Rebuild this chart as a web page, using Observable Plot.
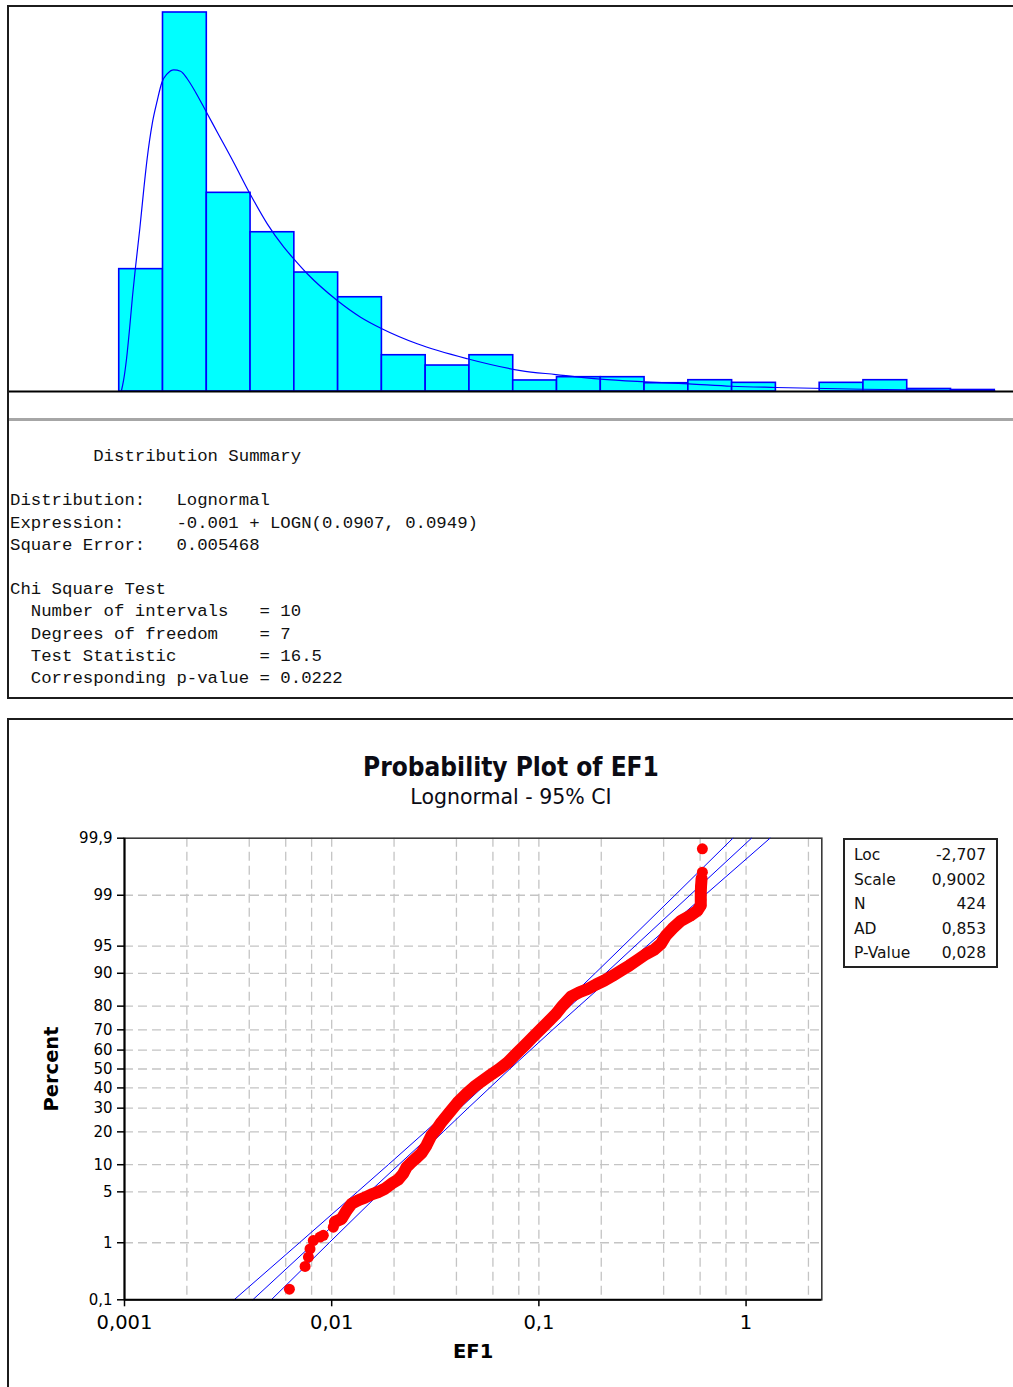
<!DOCTYPE html>
<html>
<head>
<meta charset="utf-8">
<script src="https://cdn.jsdelivr.net/npm/d3@7"></script>
<script src="https://cdn.jsdelivr.net/npm/@observablehq/plot@0.6"></script>
<style>
  html, body { margin: 0; padding: 0; background: #fff; }
  body { width: 1013px; height: 1387px; overflow: hidden; position: relative; }
  .panel { position: absolute; border: 2px solid #1c1c1c; box-sizing: border-box; }
  .abs { position: absolute; }
  #summary {
    position: absolute; left: 10px; top: 446px; margin: 0;
    font-family: "Liberation Mono", "DejaVu Sans Mono", monospace;
    font-size: 17.33px; line-height: 22.2px; color: #111; white-space: pre;
  }
  #sep { position: absolute; left: 9px; top: 418px; width: 1004px; height: 3px; background: #a6a6a6; }
  #title {
    position: absolute; left: 9px; width: 1004px; top: 754px; text-align: center;
    font-family: "DejaVu Sans Condensed", "DejaVu Sans", sans-serif; font-stretch: condensed;
    font-weight: bold; font-size: 26px; line-height: 26px; color: #0b0b14;
  }
  #subtitle {
    position: absolute; left: 9px; width: 1004px; top: 786.7px; text-align: center;
    font-family: "DejaVu Sans", sans-serif; font-size: 20.5px; line-height: 20.5px; color: #0b0b14;
  }
  #stats {
    position: absolute; left: 843px; top: 838px; width: 155px; height: 130px;
    border: 2px solid #222; box-sizing: border-box; padding: 3px 10px 0 9px;
    font-family: "DejaVu Sans", sans-serif; font-size: 15.5px; line-height: 24.5px; color: #111;
  }
  #stats .row { display: flex; justify-content: space-between; }
</style>
</head>
<body>
<div class="panel" style="left:7px; top:5px; width:1030px; height:694px;"></div>
<div class="panel" style="left:7px; top:718px; width:1030px; height:720px;"></div>
<div id="hist" class="abs" style="left:9px; top:7px;"></div>
<div id="sep"></div>
<pre id="summary"></pre>
<div id="title"></div>
<div id="subtitle"></div>
<div id="prob" class="abs" style="left:9px; top:818px;"></div>
<div id="stats"></div>
<script>
// ---------- Histogram of EF1 with fitted lognormal density ----------
const histBinEdges = [0.0060, 0.0364, 0.0668, 0.0972, 0.1276, 0.1580, 0.1884, 0.2188, 0.2492, 0.2796,
  0.3100, 0.3404, 0.3708, 0.4012, 0.4316, 0.4620, 0.4924, 0.5228, 0.5532, 0.5836, 0.6140];
const histRelFreq = [0.0975, 0.3020, 0.1583, 0.1269, 0.0948, 0.0751, 0.0289, 0.0207, 0.0289, 0.0088,
  0.0114, 0.0114, 0.0066, 0.0090, 0.0069, 0.0000, 0.0069, 0.0090, 0.0020, 0.0012];

// fitted density, as relative frequency per interval
const densityX = [0.0074, 0.0090, 0.0111, 0.0132, 0.0152, 0.0173, 0.0203, 0.0231, 0.0254, 0.0289, 0.0324,
  0.0356, 0.0393, 0.0439, 0.0486, 0.0532, 0.0590, 0.0666, 0.0741, 0.0854, 0.0967, 0.1088, 0.1203, 0.1272,
  0.1366, 0.1574, 0.1736, 0.1884, 0.2129, 0.2477, 0.2847, 0.3092, 0.3402, 0.3708, 0.4015, 0.4312, 0.4619,
  0.5224, 0.5837, 0.6140];
const densityY = [0.0000, 0.0088, 0.0263, 0.0502, 0.0757, 0.0990, 0.1299, 0.1618, 0.1857, 0.2133, 0.2318,
  0.2462, 0.2531, 0.2563, 0.2552, 0.2492, 0.2385, 0.2225, 0.2066, 0.1827, 0.1578, 0.1336, 0.1150, 0.1057,
  0.0938, 0.0725, 0.0592, 0.0500, 0.0380, 0.0261, 0.0167, 0.0135, 0.0098, 0.0077, 0.0061, 0.0042, 0.0032,
  0.0018, 0.0010, 0.0008];

// ---------- Input Analyzer summary ----------
const summaryNames = ["Distribution:", "Expression:", "Square Error:"];
const summaryValues = ["Lognormal", "-0.001 + LOGN(0.0907, 0.0949)", "0.005468"];
const chiNames = ["Number of intervals", "Degrees of freedom", "Test Statistic", "Corresponding p-value"];
const chiValues = ["10", "7", "16.5", "0.0222"];

// ---------- Probability plot (lognormal, 95% CI) ----------
const ef1Values = [0.00625, 0.00744, 0.00772, 0.00786, 0.00815, 0.00878, 0.00911, 0.01018, 0.01037, 0.01117,
  0.01181, 0.01248, 0.01343, 0.01446, 0.01558, 0.01677, 0.01806, 0.01945, 0.02093, 0.02212, 0.02297, 0.02428,
  0.02566, 0.02713, 0.02867, 0.03030, 0.03261, 0.03386, 0.03713, 0.04070, 0.04467, 0.04897, 0.05370, 0.05892,
  0.06461, 0.07086, 0.07775, 0.08525, 0.09345, 0.1026, 0.1125, 0.1211, 0.1303, 0.1430, 0.1569, 0.1720,
  0.1887, 0.2070, 0.2269, 0.2490, 0.2731, 0.2994, 0.3285, 0.3602, 0.3880, 0.4101, 0.4413, 0.4859, 0.5370,
  0.5821, 0.6045, 0.6045, 0.6045, 0.6064, 0.6099, 0.6153, 0.6153];
const ef1Percents = [0.16, 0.41, 0.59, 0.80, 1.08, 1.22, 1.30, 1.71, 2.03, 2.25, 2.91, 3.56, 3.94, 4.25, 4.66,
  4.98, 5.44, 6.24, 6.92, 8.04, 9.44, 10.6, 11.7, 13.0, 15.3, 18.7, 21.8, 23.8, 28.2, 32.9, 37.0, 40.8, 43.9,
  47.1, 50.1, 53.6, 58.1, 62.3, 66.5, 70.5, 74.2, 77.0, 80.2, 83.4, 84.8, 85.8, 87.1, 88.2, 89.4, 90.6, 91.7,
  92.8, 93.8, 94.5, 95.3, 96.3, 97.0, 97.65, 97.99, 98.30, 98.57, 98.83, 99.09, 99.29, 99.46, 99.58, 99.84];

const fitPercents = [0.1, 50, 99.9];
const fitValues = [0.00416, 0.0665, 1.062];
const ciPercents = [0.1, 1, 5, 10, 20, 30, 50, 70, 80, 90, 95, 99, 99.9];
const ciLower = [0.00338, 0.00699, 0.01331, 0.01875, 0.02826, 0.03792, 0.06099, 0.09705, 0.1279, 0.1868, 0.2546, 0.4536, 0.8640];
const ciUpper = [0.00511, 0.00973, 0.01733, 0.02361, 0.03450, 0.04548, 0.07235, 0.1164, 0.1561, 0.2353, 0.3315, 0.6314, 1.305];

const yTickPercents = [0.1, 1, 5, 10, 20, 30, 40, 50, 60, 70, 80, 90, 95, 99, 99.9];
const yTickLabels = ["0,1", "1", "5", "10", "20", "30", "40", "50", "60", "70", "80", "90", "95", "99", "99,9"];
const yGridPercents = [1, 5, 10, 20, 30, 40, 50, 60, 70, 80, 90, 95, 99];
const xTickValues = [0.001, 0.01, 0.1, 1];
const xTickLabels = ["0,001", "0,01", "0,1", "1"];
const xGridValues = [0.002, 0.004, 0.006, 0.008, 0.01, 0.02, 0.04, 0.06, 0.08, 0.1,
  0.2, 0.4, 0.6, 0.8, 1, 2];

const statLabels = ["Loc", "Scale", "N", "AD", "P-Value"];
const statValues = ["-2,707", "0,9002", "424", "0,853", "0,028"];

// normal quantile (Acklam's rational approximation) for the probability axis
function probit(p) {
  const a = [-3.969683028665376e+01, 2.209460984245205e+02, -2.759285104469687e+02, 1.383577518672690e+02, -3.066479806614716e+01, 2.506628277459239e+00];
  const b = [-5.447609879822406e+01, 1.615858368580409e+02, -1.556989798598866e+02, 6.680131188771972e+01, -1.328068155288572e+01];
  const c = [-7.784894002430293e-03, -3.223964580411365e-01, -2.400758277161838e+00, -2.549732539343734e+00, 4.374664141464968e+00, 2.938163982698783e+00];
  const d = [7.784695709041462e-03, 3.224671290700398e-01, 2.445134137142996e+00, 3.754408661907416e+00];
  const pl = 0.02425;
  if (p < pl) {
    const q = Math.sqrt(-2 * Math.log(p));
    return (((((c[0]*q + c[1])*q + c[2])*q + c[3])*q + c[4])*q + c[5]) / ((((d[0]*q + d[1])*q + d[2])*q + d[3])*q + 1);
  }
  if (p <= 1 - pl) {
    const q = p - 0.5, r = q * q;
    return (((((a[0]*r + a[1])*r + a[2])*r + a[3])*r + a[4])*r + a[5]) * q / (((((b[0]*r + b[1])*r + b[2])*r + b[3])*r + b[4])*r + 1);
  }
  const q = Math.sqrt(-2 * Math.log(1 - p));
  return -(((((c[0]*q + c[1])*q + c[2])*q + c[3])*q + c[4])*q + c[5]) / ((((d[0]*q + d[1])*q + d[2])*q + d[3])*q + 1);
}
const zOf = pct => probit(pct / 100);

// ---------- draw histogram ----------
const bins = histRelFreq.map((f, i) => ({x1: histBinEdges[i], x2: histBinEdges[i + 1], f})).filter(d => d.f > 0);
const density = densityX.map((x, i) => ({x, y: densityY[i]}));

const hist = Plot.plot({
  width: 1004, height: 414,
  marginLeft: 0, marginRight: 0, marginTop: 5, marginBottom: 30,
  x: {domain: [-0.0702, 0.6270], axis: null},
  y: {domain: [0, 0.302], axis: null},
  style: {background: "none", overflow: "visible"},
  marks: [
    Plot.rectY(bins, {x1: "x1", x2: "x2", y1: 0, y2: "f", fill: "#00ffff", stroke: "#0000ff", strokeWidth: 1.6}),
    Plot.line(density, {x: "x", y: "y", stroke: "#0000ff", strokeWidth: 1.2, curve: "monotone-x"}),
    Plot.ruleY([0], {stroke: "#000", strokeWidth: 2})
  ]
});
document.getElementById("hist").appendChild(hist);

// ---------- summary text ----------
const pad = (s, n) => s + " ".repeat(Math.max(0, n - s.length));
const lines = ["        Distribution Summary", ""];
summaryNames.forEach((n, i) => lines.push(pad(n, 16) + summaryValues[i]));
lines.push("", "Chi Square Test");
chiNames.forEach((n, i) => lines.push(pad("  " + n, 24) + "= " + chiValues[i]));
document.getElementById("summary").textContent = lines.join("\n");

// ---------- probability plot ----------
document.getElementById("title").textContent = "Probability Plot of EF1";
document.getElementById("subtitle").textContent = "Lognormal - 95% CI";

const pts = ef1Values.map((v, i) => ({v, z: zOf(ef1Percents[i])}));
// where the plotted symbols overlap into a solid band (about 2% to 99.5%)
const band = pts.slice(8, 65);
const fitLine = fitValues.map((v, i) => ({v, z: zOf(fitPercents[i])}));
const lowLine = ciLower.map((v, i) => ({v, z: zOf(ciPercents[i])}));
const upLine = ciUpper.map((v, i) => ({v, z: zOf(ciPercents[i])}));
const yTickZ = yTickPercents.map(zOf);
const yLabelOf = new Map(yTickZ.map((z, i) => [z, yTickLabels[i]]));
const xLabelOf = new Map(xTickValues.map((v, i) => [v, xTickLabels[i]]));
const gridStyle = {stroke: "#c4c4c4", strokeWidth: 1.3, strokeDasharray: "9,5"};

const prob = Plot.plot({
  width: 1004, height: 569,
  marginLeft: 115, marginRight: 191.7, marginTop: 19.7, marginBottom: 87.7,
  x: {type: "log", domain: [0.001, 2.32], axis: null},
  y: {domain: [zOf(0.1), zOf(99.9)], axis: null},
  style: {background: "none", overflow: "visible", fontFamily: "DejaVu Sans, sans-serif", color: "#000"},
  marks: [
    Plot.ruleX(xGridValues, {...gridStyle}),
    Plot.ruleY(yGridPercents.map(zOf), {...gridStyle}),
    Plot.frame({stroke: "#3a3a3a", strokeWidth: 1.6}),
    Plot.line(lowLine, {x: "v", y: "z", stroke: "#0000ff", strokeWidth: 1}),
    Plot.line(fitLine, {x: "v", y: "z", stroke: "#0000ff", strokeWidth: 1}),
    Plot.line(upLine, {x: "v", y: "z", stroke: "#0000ff", strokeWidth: 1}),
    Plot.line(band, {x: "v", y: "z", stroke: "#ff0000", strokeWidth: 12, strokeLinejoin: "round", strokeLinecap: "round"}),
    Plot.dot(pts, {x: "v", y: "z", r: 5.5, fill: "#ff0000"}),
    Plot.ruleX([0.001], {stroke: "#000", strokeWidth: 2}),
    Plot.ruleY([zOf(0.1)], {stroke: "#000", strokeWidth: 2}),
    Plot.axisY(yTickZ, {tickSize: 7, tickPadding: 5, tickFormat: z => yLabelOf.get(z), fontSize: 15,
      label: null, color: "#000", strokeWidth: 1.5}),
    Plot.axisX(xTickValues, {tickSize: 7, tickPadding: 8, tickFormat: v => xLabelOf.get(v), fontSize: 19.5,
      label: null, color: "#000", strokeWidth: 1.5}),
    Plot.text(["EF1"], {text: d => d, frameAnchor: "bottom", dy: 58, fontWeight: "bold", fontSize: 19.5, fill: "#000"}),
    Plot.text(["Percent"], {text: d => d, frameAnchor: "left", textAnchor: "middle", dx: -73, rotate: -90,
      fontWeight: "bold", fontSize: 19.5, fill: "#000"})
  ]
});
document.getElementById("prob").appendChild(prob);

// ---------- statistics box ----------
const stats = document.getElementById("stats");
statLabels.forEach((l, i) => {
  const row = document.createElement("div");
  row.className = "row";
  const a = document.createElement("span"); a.textContent = l;
  const b = document.createElement("span"); b.textContent = statValues[i];
  row.append(a, b);
  stats.appendChild(row);
});
</script>
</body>
</html>
